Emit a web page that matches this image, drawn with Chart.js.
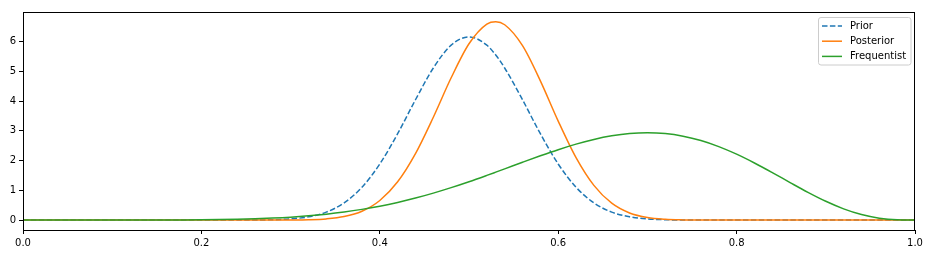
<!DOCTYPE html>
<html>
<head>
<meta charset="utf-8">
<script src="https://cdn.jsdelivr.net/npm/chart.js@4/dist/chart.umd.min.js"></script>
<style>
  html, body { margin: 0; padding: 0; background: #fff; }
  #wrap { width: 928px; height: 255px; position: relative; }
</style>
</head>
<body>
<div id="wrap"><canvas id="c" width="928" height="255"></canvas></div>
<script>
const xValues = [0,0.02,0.04,0.06,0.08,0.10,0.12,0.14,0.16,0.18,0.20,0.22,0.24,0.26,0.28,0.30,0.32,0.34,0.36,0.38,0.40,0.42,0.44,0.46,0.48,0.50,0.52,0.53,0.54,0.56,0.58,0.60,0.62,0.64,0.66,0.68,0.70,0.72,0.74,0.76,0.78,0.80,0.82,0.84,0.86,0.88,0.90,0.92,0.94,0.96,0.98,1.00];

const prior = [0,0,0,0,0,0,0,0,0,0,0,0.0001,0.0007,0.0031,0.012,0.039,0.110,0.268,0.577,1.102,1.884,2.901,4.042,5.109,5.876,6.155,5.876,5.544,5.109,4.042,2.901,1.884,1.102,0.577,0.268,0.110,0.039,0.012,0.0031,0.0007,0.0001,0,0,0,0,0,0,0,0,0,0,0];

const posterior = [0,0,0,0,0,0,0,0,0,0,0,0,0,0.0001,0.0006,0.0029,0.0117,0.040,0.117,0.296,0.657,1.286,2.233,3.455,4.780,5.923,6.584,6.663,6.562,5.860,4.678,3.326,2.098,1.166,0.567,0.239,0.086,0.026,0.0065,0.0013,0.0002,0,0,0,0,0,0,0,0,0,0,0];

const frequentist = [0,0,0,0,0,0.0001,0.0003,0.0009,0.0021,0.0045,0.0087,0.0156,0.0266,0.043,0.0665,0.099,0.143,0.199,0.271,0.360,0.467,0.594,0.740,0.906,1.090,1.289,1.501,1.610,1.720,1.942,2.159,2.365,2.551,2.709,2.830,2.908,2.935,2.907,2.819,2.673,2.469,2.215,1.919,1.596,1.260,0.932,0.631,0.377,0.185,0.064,0.009,0];

const seriesNames = ['Prior', 'Posterior', 'Frequentist'];
const xTickValues = [0, 0.2, 0.4, 0.6, 0.8, 1.0];
const yTickValues = [0, 1, 2, 3, 4, 5, 6];

const toPts = arr => arr.map((y, i) => ({ x: xValues[i], y: y }));
const FONT = { family: 'DejaVu Sans', size: 10 };

const framePlugin = {
  id: 'frameLegend',
  afterDraw(chart) {
    const { ctx, chartArea: a } = chart;
    ctx.save();
    ctx.strokeStyle = '#000';
    ctx.lineWidth = 1;
    ctx.strokeRect(Math.round(a.left) + 0.5, Math.round(a.top) + 0.5,
                   Math.round(a.right - a.left) - 1, Math.round(a.bottom - a.top));
    // legend box
    const bx = 818.5, by = 17.5, bw = 92.5, bh = 47.5, r = 2.5;
    ctx.beginPath();
    ctx.moveTo(bx + r, by);
    ctx.lineTo(bx + bw - r, by);
    ctx.quadraticCurveTo(bx + bw, by, bx + bw, by + r);
    ctx.lineTo(bx + bw, by + bh - r);
    ctx.quadraticCurveTo(bx + bw, by + bh, bx + bw - r, by + bh);
    ctx.lineTo(bx + r, by + bh);
    ctx.quadraticCurveTo(bx, by + bh, bx, by + bh - r);
    ctx.lineTo(bx, by + r);
    ctx.quadraticCurveTo(bx, by, bx + r, by);
    ctx.closePath();
    ctx.fillStyle = 'rgba(255,255,255,0.8)';
    ctx.fill();
    ctx.strokeStyle = '#cccccc';
    ctx.stroke();
    const ys = [26, 41.2, 56.4];
    chart.data.datasets.forEach((ds, i) => {
      ctx.beginPath();
      ctx.strokeStyle = ds.borderColor;
      ctx.lineWidth = 1.5;
      ctx.setLineDash(ds.borderDash || []);
      ctx.moveTo(822, ys[i]);
      ctx.lineTo(842, ys[i]);
      ctx.stroke();
      ctx.setLineDash([]);
      ctx.fillStyle = '#000';
      ctx.font = '10px "DejaVu Sans"';
      ctx.textBaseline = 'middle';
      ctx.textAlign = 'left';
      ctx.fillText(ds.label, 850, ys[i]);
    });
    ctx.restore();
  }
};

new Chart(document.getElementById('c'), {
  type: 'line',
  data: {
    datasets: [
      { label: seriesNames[0], data: toPts(prior), borderColor: '#1f77b4', borderWidth: 1.5, borderDash: [5.5, 2.4], pointRadius: 0, cubicInterpolationMode: 'monotone', order: 2, fill: false },
      { label: seriesNames[1], data: toPts(posterior), borderColor: '#ff7f0e', borderWidth: 1.5, pointRadius: 0, cubicInterpolationMode: 'monotone', order: 1, fill: false },
      { label: seriesNames[2], data: toPts(frequentist), borderColor: '#2ca02c', borderWidth: 1.5, pointRadius: 0, cubicInterpolationMode: 'monotone', order: 0, fill: false }
    ]
  },
  options: {
    responsive: false,
    animation: false,
    events: [],
    layout: { padding: { top: 12, right: 13, left: 0, bottom: 0 } },
    plugins: { legend: { display: false }, tooltip: { enabled: false } },
    scales: {
      x: {
        type: 'linear', min: 0, max: 1,
        afterBuildTicks: s => { s.ticks = xTickValues.map(v => ({ value: v })); },
        afterFit: s => { s.height = 25; },
        grid: { drawOnChartArea: false, drawTicks: true, tickLength: 4, color: '#000', lineWidth: 1 },
        border: { display: false },
        ticks: { font: FONT, color: '#000', padding: 3, maxRotation: 0, autoSkip: false, callback: v => v.toFixed(1) }
      },
      y: {
        type: 'linear', min: -0.333, max: 6.99,
        afterBuildTicks: s => { s.ticks = yTickValues.map(v => ({ value: v })); },
        afterFit: s => { s.width = 23; },
        grid: { drawOnChartArea: false, drawTicks: true, tickLength: 4, color: '#000', lineWidth: 1 },
        border: { display: false },
        ticks: { font: FONT, color: '#000', padding: 3, autoSkip: false, callback: v => String(v) }
      }
    }
  },
  plugins: [framePlugin]
});
</script>
</body>
</html>
